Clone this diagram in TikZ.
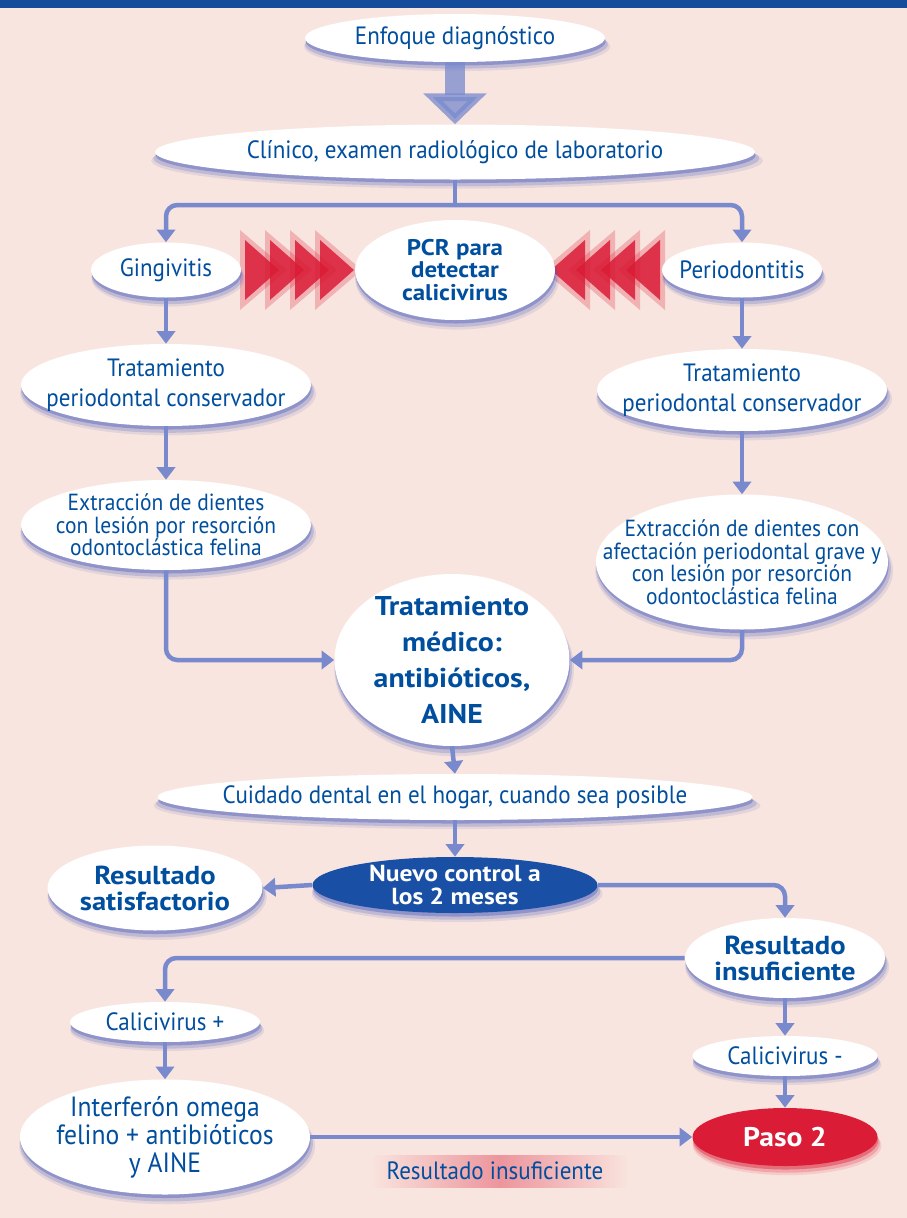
\documentclass[tikz,border=0pt]{standalone}
\usepackage{fontspec}
\setmainfont{PT Sans}[FakeStretch=0.92]
\newfontfamily\wbold{PT Sans Bold}[FakeStretch=1.1]
\usetikzlibrary{shapes.geometric,arrows.meta,shadows}
\definecolor{bg}{RGB}{249,229,223}
\definecolor{tb}{RGB}{0,78,158}
\definecolor{band}{RGB}{20,75,155}
\definecolor{lc}{RGB}{120,138,205}
\definecolor{shc}{RGB}{70,90,190}
\definecolor{navy}{RGB}{25,80,165}
\definecolor{rd}{RGB}{218,28,55}
\tikzset{
 shd/.style={
   general shadow={shadow yshift=-6pt, shadow xshift=1.5pt, shadow scale=1.02, fill=#1, opacity=0.12},
   general shadow={shadow yshift=-4.5pt, shadow xshift=1pt, shadow scale=1.01, fill=#1, opacity=0.22},
   general shadow={shadow yshift=-2.5pt, shadow xshift=0.5pt, fill=#1, opacity=0.4}},
 el/.style={ellipse, fill=white, inner sep=0pt, shd=shc},
 sz/.style 2 args={minimum width=#1*0.025cm, minimum height=#2*0.025cm},
 tx/.style={text=tb, align=center, inner sep=0pt, font=\fontsize{17.8}{21.3}\selectfont},
 txs/.style={text=tb, align=center, inner sep=0pt, font=\fontsize{16.6}{16}\selectfont},
 txb/.style={text=tb, align=center, inner sep=0pt, font=\fontsize{16.1}{16.2}\selectfont\wbold},
 txm/.style={text=tb, align=center, inner sep=0pt, font=\fontsize{19.3}{25.6}\selectfont\wbold},
 txr/.style={text=tb, align=center, inner sep=0pt, font=\fontsize{18.5}{18.5}\selectfont\wbold},
 txi/.style={text=tb, align=center, inner sep=0pt, font=\fontsize{19.8}{20}\selectfont},
 txw/.style={text=white, align=center, inner sep=0pt, font=\fontsize{16.5}{17}\selectfont\wbold},
 plain/.style={draw=lc, line width=3.2pt},
 link/.style={draw=lc, line width=3.2pt, rounded corners=8pt, -{Triangle[width=13pt,length=9pt]}},
}
\begin{document}
\begin{tikzpicture}[x=0.025cm,y=-0.025cm]
\fill[bg] (0,0) rectangle (907,1218);
\useasboundingbox (0,0) rectangle (907,1218);
\fill[band] (0,0) rectangle (907,8);

% red chevrons
\foreach \xo in {245,270,295,320}{
  \fill[rd, opacity=0.25] (\xo-5,230) -- (\xo+42,270) -- (\xo-5,310) -- cycle;
  \fill[rd, opacity=0.85] (\xo,240) -- (\xo+34,270) -- (\xo,300) -- cycle;
}
\foreach \xo in {660,635,610,585}{
  \fill[rd, opacity=0.25] (\xo+5,230) -- (\xo-42,270) -- (\xo+5,310) -- cycle;
  \fill[rd, opacity=0.85] (\xo,240) -- (\xo-34,270) -- (\xo,300) -- cycle;
}

% nodes
\node[el,sz={300}{48},label={[tx]center:{Enfoque diagnóstico}}] (enf) at (455,38) {};
\node[el,sz={600}{55},label={[tx]center:{Clínico, examen radiológico de laboratorio}}] (cli) at (455,152) {};
\node[el,sz={150}{55},label={[tx]center:{Gingivitis}}] (gin) at (166,270) {};
\node[el,sz={200}{100},label={[txb]center:{PCR para\\detectar\\calicivirus}}] (pcr) at (455,270) {};
\node[el,sz={160}{55},label={[tx]center:{Periodontitis}}] (per) at (742,270) {};
\node[el,sz={290}{82},label={[tx]center:{Tratamiento\\periodontal conservador}}] (trl) at (166,385) {};
\node[el,sz={290}{82},label={[tx]center:{Tratamiento\\periodontal conservador}}] (trr) at (742,390) {};
\node[el,sz={290}{90},label={[txs]center:{Extracción de dientes\\con lesión por resorción\\odontoclástica felina}}] (exl) at (166,525) {};
\node[el,sz={292}{135},label={[txs]center:{Extracción de dientes con\\afectación periodontal grave y\\con lesión por resorción\\odontoclástica felina}}] (exr) at (742,562) {};
\node[el,sz={235}{172},label={[txm]center:{Tratamiento\\médico:\\antibióticos,\\AINE}}] (med) at (452,660) {};
\node[el,sz={595}{46},label={[tx]center:{Cuidado dental en el hogar, cuando sea posible}}] (cui) at (455,797) {};
\node[ellipse,fill=navy,inner sep=0pt,shd=shc,sz={285}{56},label={[txw]center:{Nuevo control a\\los 2 meses}}] (nue) at (455,885) {};
\node[el,sz={215}{85},label={[txr]center:{Resultado\\satisfactorio}}] (sat) at (155,888) {};
\node[el,sz={200}{80},label={[txr]center:{Resultado\\insuficiente}}] (ins) at (785,958) {};
\node[el,sz={190}{40},label={[tx]center:{Calicivirus +}}] (calp) at (165,1022) {};
\node[el,sz={290}{115},label={[txi]center:{Interferón omega\\felino + antibióticos\\y AINE}}] (int) at (165,1137) {};
\node[el,sz={185}{40},label={[tx]center:{Calicivirus -}}] (calm) at (785,1056) {};
\node[ellipse,fill=rd,inner sep=0pt,shd=rd,sz={185}{58},label={[txw,font=\fontsize{19.2}{19}\selectfont\wbold]center:{Paso 2}}] (paso) at (785,1137) {};

\shade[left color=bg, right color=bg, middle color=rd!40!bg] (370,1155) rectangle (630,1187);
\node[tx] (lbl) at (495,1171) {Resultado insuficiente};

% big arrow
\draw[draw=lc, opacity=0.75, line width=14pt, -{Triangle[width=44pt,length=22pt]}] (enf.south) -- (cli.north);

% connectors
\coordinate (j1) at (455,205);
\draw[plain] (cli.south) -- (j1);
\draw[link] (j1) -| (gin.north);
\draw[link] (j1) -| (per.north);
\draw[link] (gin.south) -- (trl.north);
\draw[link] (trl.south) -- (exl.north);
\draw[link] (per.south) -- (trr.north);
\draw[link] (trr.south) -- (exr.north);
\draw[link] (exl.south) |- (med.west);
\draw[link] (exr.south) |- (med.east);
\draw[link] (med.south) -- (cui.north);
\draw[link] (cui.south) -- (nue.north);
\draw[link] (nue.west) -- (sat.east);
\draw[link] (nue.east) -| (ins.north);
\draw[link] (ins.west) -| (calp.north);
\draw[link] (calp.south) -- (int.north);
\draw[link] (int.east) -- (paso.west);
\draw[link] (ins.south) -- (calm.north);
\draw[link] (calm.south) -- (paso.north);
\end{tikzpicture}
\end{document}
